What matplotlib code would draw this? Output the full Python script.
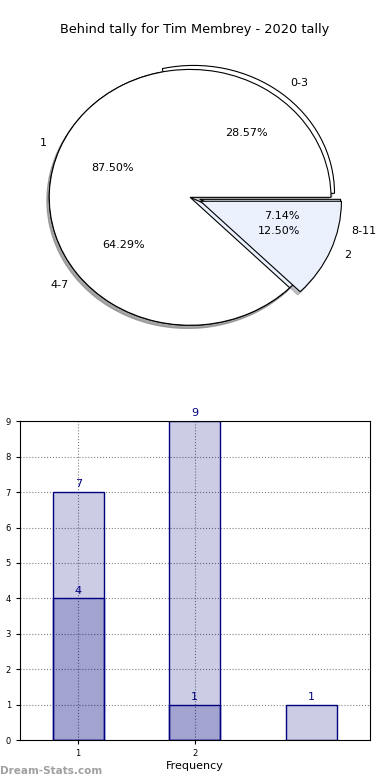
import matplotlib
matplotlib.use('Agg')
import matplotlib.pyplot as plt

title = 'Behind tally for Tim Membrey - 2020 tally'

# pie 1: behind ranges
range_labels = ['0-3', '4-7', '8-11']
range_counts = [4, 9, 1]
# pie 2: frequency
freq_labels = ['1', '2']
freq_counts = [7, 1]

# bars
bar_x = [1, 2, 3]
bar_light = [7, 9, 1]
dark_x = [1, 2]
bar_dark = [4, 1]
xtick_pos = [1, 2]

light_blue = '#eaf0fc'

fig = plt.figure(figsize=(3.9, 7.8), dpi=100)
fig.text(0.5, 0.962, title, ha='center', va='center', fontsize=9.3)

# pie part
ax1 = fig.add_axes([0.036, 0.542, 0.903, 0.41])
wp = dict(edgecolor='black', linewidth=0.8)
shad = dict(ox=-0.012, oy=-0.018, shade=0.45)
ax1.pie(range_counts, labels=range_labels, autopct='%1.2f%%', explode=(0.04, 0.0, 0.07),
        colors=['white', light_blue, light_blue], shadow=shad, wedgeprops=wp,
        textprops=dict(fontsize=8))
ax1.pie(freq_counts, labels=freq_labels, autopct='%1.2f%%', explode=(0, 0.08),
        colors=['white', light_blue], shadow=shad, wedgeprops=wp,
        textprops=dict(fontsize=8))
ax1.set_aspect('auto')
ax1.set_xlim(-1.25, 1.25)
ax1.set_ylim(-1.25, 1.25)
ax1.axis('off')

# bar part
ax2 = fig.add_axes([0.051, 0.051, 0.897, 0.409])
ax2.bar(bar_x, bar_light, width=0.44, color='navy', alpha=0.2, edgecolor='none')
ax2.bar(bar_x, bar_light, width=0.44, color='none', edgecolor='navy', linewidth=1)
ax2.bar(dark_x, bar_dark, width=0.44, color='navy', alpha=0.2, edgecolor='none')
ax2.bar(dark_x, bar_dark, width=0.44, color='none', edgecolor='navy', linewidth=1)
for x, v in zip(bar_x, bar_light):
    ax2.text(x, v + 0.08, str(v), ha='center', va='bottom', color='navy', fontsize=8)
for x, v in zip(dark_x, bar_dark):
    ax2.text(x, v + 0.08, str(v), ha='center', va='bottom', color='navy', fontsize=8)
ax2.set_xlim(0.5, 3.5)
ax2.set_ylim(0, 9)
ax2.set_yticks(range(10))
ax2.set_xticks(xtick_pos)
ax2.tick_params(labelsize=6, length=3)
ax2.grid(True, linestyle=':', color='gray', linewidth=0.8)
ax2.set_axisbelow(True)
ax2.set_xlabel('Frequency', fontsize=8, labelpad=2)

fig.text(0.0, 0.012, 'Dream-Stats.com', fontsize=7.5, color='#a0a0a0',
         fontweight='bold', ha='left', va='center')

fig.savefig('out.png', dpi=100)
